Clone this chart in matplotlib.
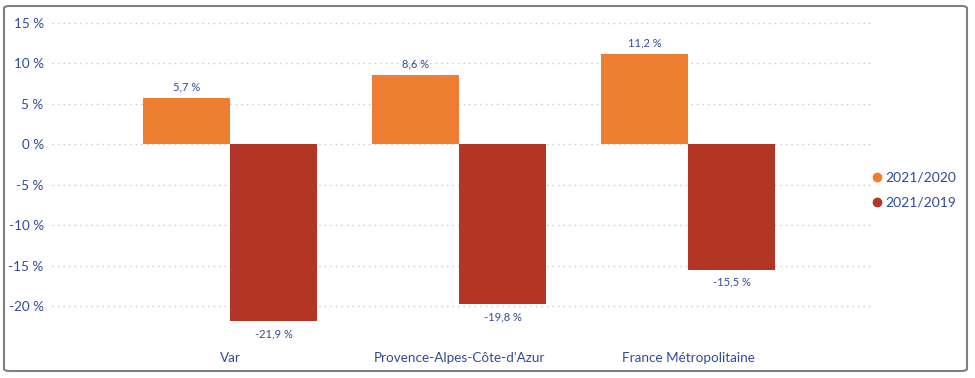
import matplotlib.pyplot as plt
import numpy as np
from matplotlib.patches import FancyBboxPatch

# Données
territoires = ['Var', "Provence-Alpes-Côte-d'Azur", 'France Métropolitaine']
series = ['2021/2020', '2021/2019']
evol_2020 = [5.7, 8.6, 11.2]
evol_2019 = [-21.9, -19.8, -15.5]
yticks = [15, 10, 5, 0, -5, -10, -15, -20]

farben = ['#ED7D31', '#B23525']
bleu = '#2F4A9C'

plt.rcParams['font.family'] = ['Lato', 'DejaVu Sans']

fig = plt.figure(figsize=(9.75, 3.78), dpi=100)
ax = fig.add_axes([52 / 975, 0.0833, (873 - 52) / 975, 0.9497 - 0.0833])

pos = np.arange(len(territoires))
breite = 0.38

b1 = ax.bar(pos - breite / 2, evol_2020, breite, color=farben[0], label=series[0], zorder=2)
b2 = ax.bar(pos + breite / 2, evol_2019, breite, color=farben[1], label=series[1], zorder=2)

def fmt(v):
    return f'{v:.1f} %'.replace('.', ',')

for rect, v in zip(b1, evol_2020):
    ax.annotate(fmt(v), (rect.get_x() + rect.get_width() / 2, v), xytext=(0, 4),
                textcoords='offset points', ha='center', va='bottom', fontsize=8, color=bleu)
for rect, v in zip(b2, evol_2019):
    ax.annotate(fmt(v), (rect.get_x() + rect.get_width() / 2, v), xytext=(0, -5),
                textcoords='offset points', ha='center', va='top', fontsize=8, color=bleu)

ax.set_ylim(-25, 15.5)
ax.set_xlim(-0.777, 2.808)
ax.set_yticks(yticks)
ax.set_yticklabels([f'{t} %' for t in yticks], fontsize=9.7, color=bleu)
ax.set_xticks(pos)
ax.set_xticklabels(territoires, fontsize=9.7, color=bleu)
ax.tick_params(length=0)
ax.tick_params(axis='y', pad=6)
ax.tick_params(axis='x', pad=4)
ax.grid(axis='y', color='#C8C8C8', linestyle=(0, (1, 3)), linewidth=1, zorder=0)
ax.set_axisbelow(True)
for s in ax.spines.values():
    s.set_visible(False)

leg = ax.legend(handles=[
    plt.Line2D([], [], marker='o', linestyle='', color=farben[0], markersize=6, label=series[0]),
    plt.Line2D([], [], marker='o', linestyle='', color=farben[1], markersize=6, label=series[1])],
    loc='center left', bbox_to_anchor=(1.0, 0.478), frameon=False, fontsize=10,
    handlelength=0.6, handletextpad=0.3, labelspacing=0.95, borderaxespad=0, borderpad=0)
for t in leg.get_texts():
    t.set_color(bleu)

# Rahmen
rahmen = FancyBboxPatch((4 / 975, 7 / 378), 963 / 975, 365 / 378,
                        boxstyle='round,pad=0,rounding_size=0.006',
                        transform=fig.transFigure, fill=False,
                        edgecolor='#7F7F7F', linewidth=1.5)
fig.patches.append(rahmen)

fig.savefig('out.png', dpi=100)
